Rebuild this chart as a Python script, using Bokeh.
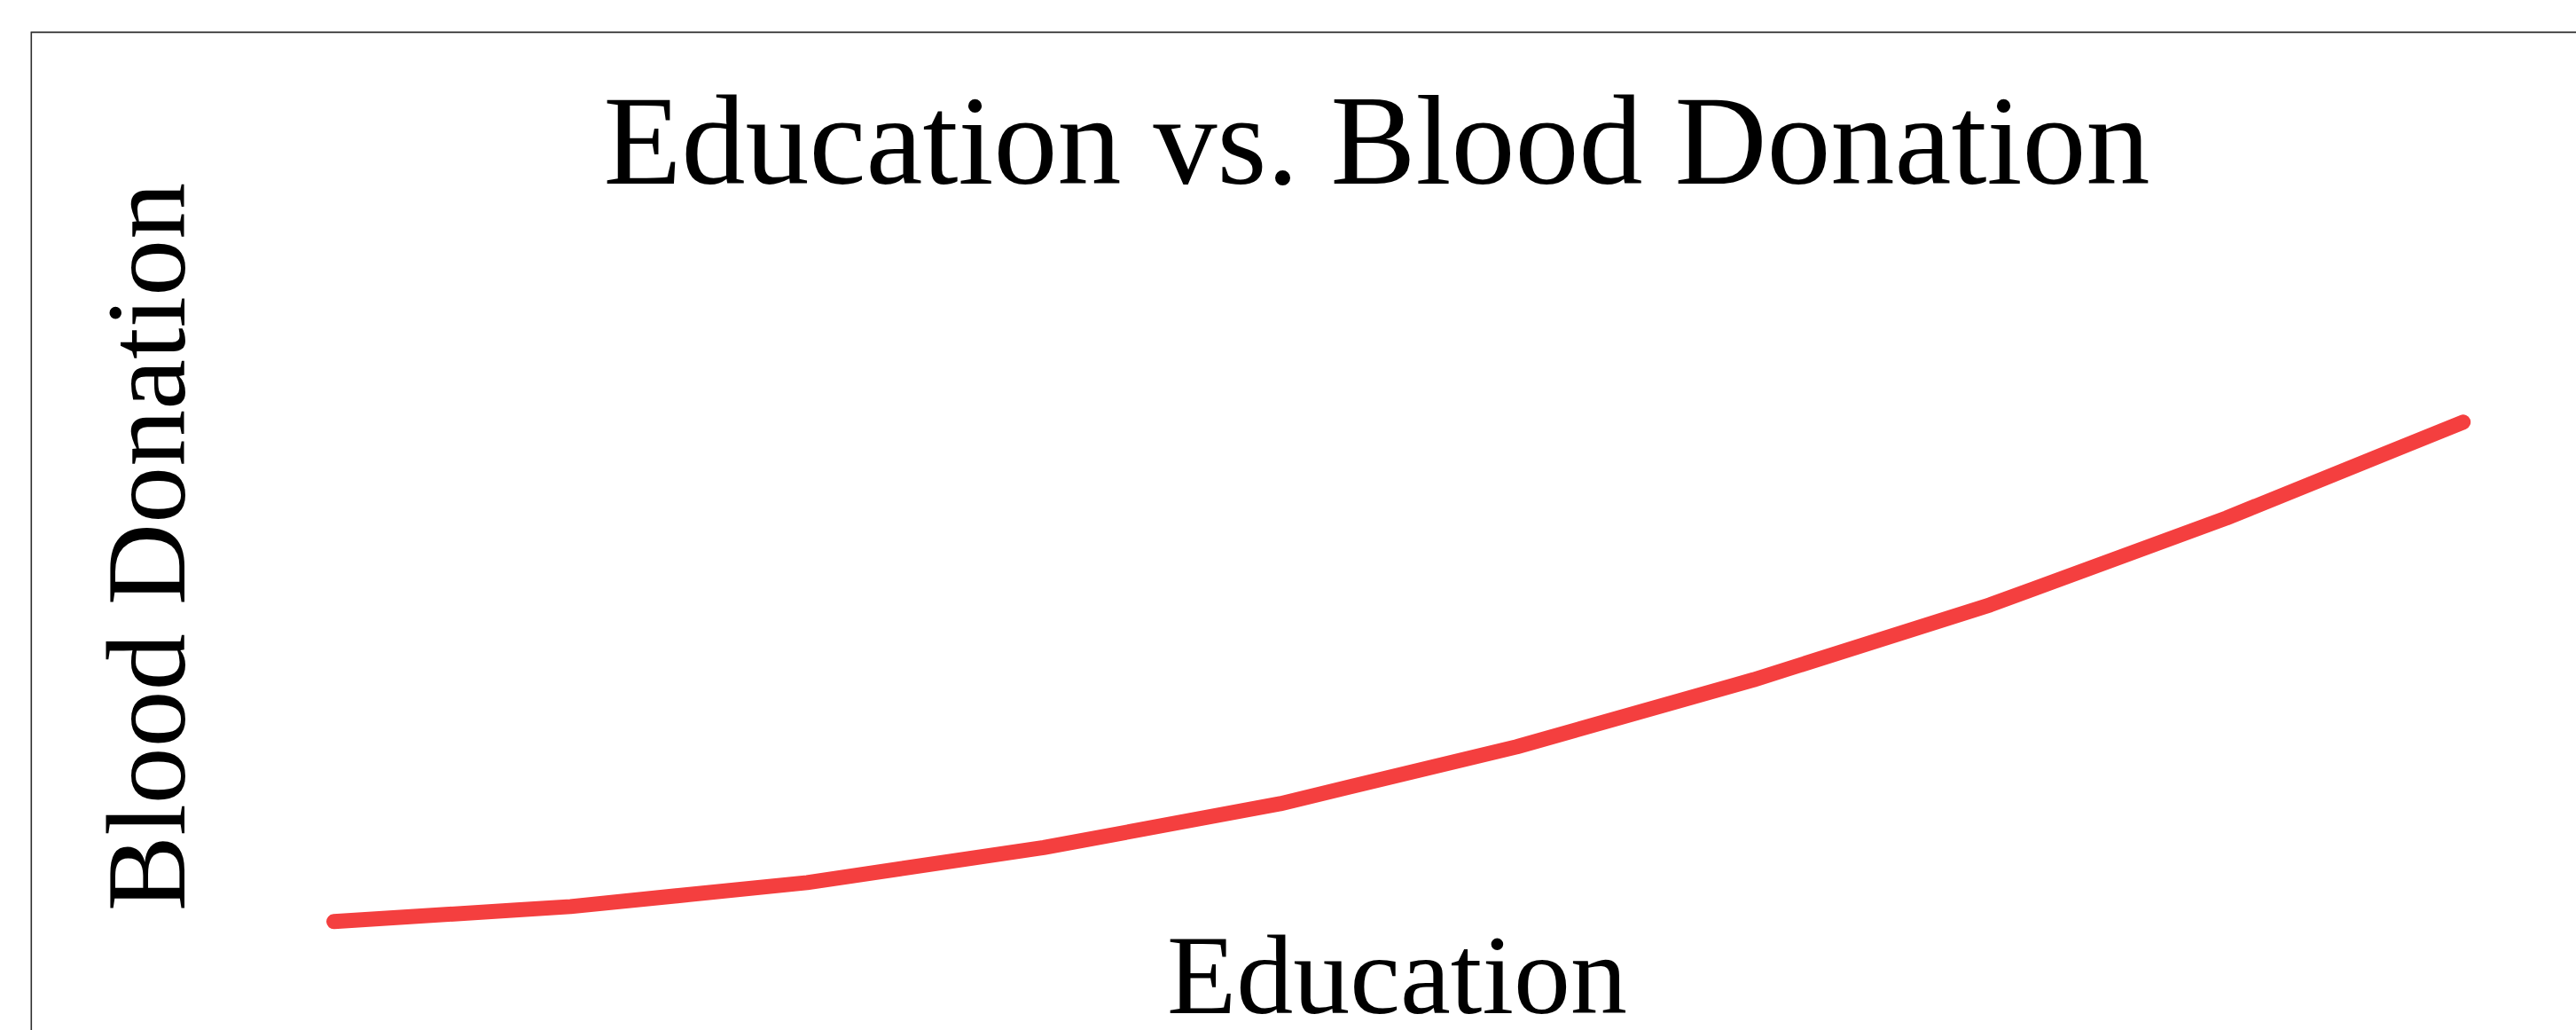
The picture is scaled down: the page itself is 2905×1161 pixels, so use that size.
from bokeh.plotting import figure
from bokeh.models import Range1d, Label, ColumnDataSource, BoxAnnotation
from bokeh.embed import file_html
from bokeh.resources import INLINE
import math

# Data
education = [1, 2, 3, 4, 5, 6, 7, 8, 9, 10]
blood_donation = [10.9, 12.4, 14.8, 18.3, 22.7, 28.4, 35.1, 42.6, 51.3, 60.9]

title_text = "Education vs. Blood Donation"
x_label_text = "Education"
y_label_text = "Blood Donation"

W, H = 2905, 1161
p = figure(width=W, height=H, output_backend="svg", toolbar_location=None,
           x_axis_location=None, y_axis_location=None,
           x_range=Range1d(-0.282, 10.479), y_range=Range1d(0, 100),
           min_border_left=34, min_border_top=35,
           min_border_right=0, min_border_bottom=0)
p.grid.visible = False
p.background_fill_color = "white"
p.border_fill_color = "white"
p.outline_line_color = None

# border that runs off the right and bottom edges, as in the reference
p.add_layout(BoxAnnotation(left=34.3, top=35.5, right=6000, bottom=6000,
                           left_units="canvas", right_units="canvas",
                           top_units="canvas", bottom_units="canvas",
                           fill_color=None, fill_alpha=0,
                           line_color="#2e2e2e", line_width=2.6, line_alpha=1))

src = ColumnDataSource(dict(x=education, y=blood_donation))
p.line("x", "y", source=src, line_color="#f43f3f", line_width=17,
       line_cap="round", line_join="round")

font = "Liberation Serif"
p.add_layout(Label(x=1518, y=1003, x_units="screen", y_units="screen",
                   text=title_text, text_font=font, text_font_size="144px",
                   text_color="black", text_align="center",
                   text_baseline="alphabetic"))
p.add_layout(Label(x=1541, y=63, x_units="screen", y_units="screen",
                   text=x_label_text, text_font=font, text_font_size="128px",
                   text_color="black", text_align="center",
                   text_baseline="alphabetic"))
p.add_layout(Label(x=130, y=545, x_units="screen", y_units="screen",
                   text=y_label_text, text_font=font, text_font_size="128px",
                   text_color="black", text_align="center",
                   text_baseline="alphabetic", angle=math.pi / 2))

open("out.html", "w").write(file_html(p, INLINE))
